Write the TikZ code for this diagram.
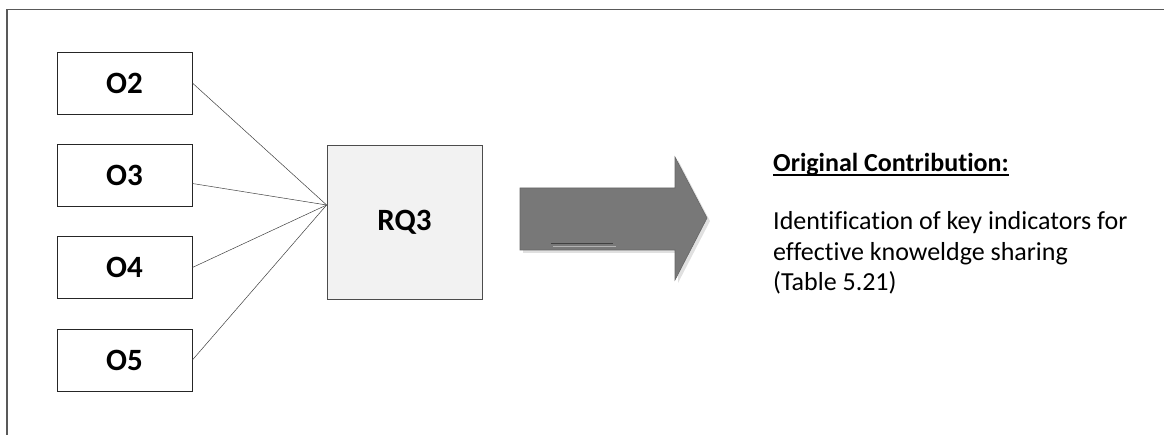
\documentclass[tikz,border=0pt]{standalone}
\usepackage{fontspec}
\setmainfont{Carlito}[RawFeature=-liga]
\begin{document}
\begin{tikzpicture}[
  x=1pt, y=-1pt, font=\fontsize{26}{30.5}\selectfont,
  obox/.style={draw=black!85, fill=white, line width=0.8pt,
               minimum width=135pt, minimum height=62pt,
               font=\fontsize{31}{34}\selectfont\bfseries},
  rqbox/.style={draw=black!70, fill=black!5, line width=0.8pt,
                minimum width=155pt, minimum height=154pt,
                font=\fontsize{31}{34}\selectfont\bfseries},
  feed/.style={draw=black!75, line width=0.5pt},
  bigarr/.style={draw=black!60, fill=black!53, line width=0.6pt},
  lbl/.style={align=left, inner sep=0pt}
]
\useasboundingbox (0,0) rectangle (1164,435);

%% outer frame (top and left edge only)
\draw[black!65, line width=1.4pt] (7,435) -- (7,9.5) -- (1164,9.5);

%% objectives
\node[obox] (o2) at (124.5, 83) {O2};
\node[obox] (o3) at (124.5,175.5) {O3};
\node[obox] (o4) at (124.5,267.5) {O4};
\node[obox] (o5) at (124.5,360) {O5};

%% research question
\node[rqbox] (rq) at (404.5,222) {RQ3};
\coordinate (hub) at ([yshift=17pt]rq.west);

%% objectives -> RQ3
\draw[feed] (o2.east) -- (hub);
\draw[feed] ([yshift=-8pt]o3.east) -- (hub);
\draw[feed] (o4.east) -- (hub);
\draw[feed] (o5.east) -- (hub);

%% big arrow
\fill[black!12] (523,191) -- (678,191) -- (678,160) -- (710,221) -- (678,283) -- (678,253) -- (523,253) -- cycle;
\draw[bigarr] (520,188) -- (675,188) -- (675,157) -- (707,218) -- (675,280) -- (675,250) -- (520,250) -- cycle;
\draw[black!75, line width=0.6pt] (551,243) -- (613,243);
\draw[black!30, line width=0.6pt] (553,246) -- (616,246);

%% contribution text
\node[lbl, anchor=base west] (head) at (773,172)
  {\bfseries Original Contribution:};
\draw[line width=1.6pt] ([yshift=-3pt]head.base west) -- ([yshift=-3pt]head.base east);
\node[lbl, anchor=base west] (body) at (773,291)
  {Identification of key indicators for\\effective knoweldge sharing\\(Table 5.21)};

\end{tikzpicture}
\end{document}
